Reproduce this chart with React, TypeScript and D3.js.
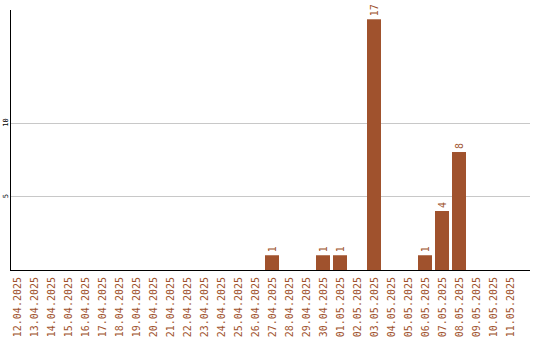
import React from "react";
import * as d3 from "d3";

const dates = [
  "12.04.2025","13.04.2025","14.04.2025","15.04.2025","16.04.2025","17.04.2025",
  "18.04.2025","19.04.2025","20.04.2025","21.04.2025","22.04.2025","23.04.2025",
  "24.04.2025","25.04.2025","26.04.2025","27.04.2025","28.04.2025","29.04.2025",
  "30.04.2025","01.05.2025","02.05.2025","03.05.2025","04.05.2025","05.05.2025",
  "06.05.2025","07.05.2025","08.05.2025","09.05.2025","10.05.2025","11.05.2025",
];
const values = [
  0,0,0,0,0,0,
  0,0,0,0,0,0,
  0,0,0,1,0,0,
  1,1,0,17,0,0,
  1,4,8,0,0,0,
];
const yTicks = [5, 10];

const W = 540, H = 340;
const left = 10, right = 530, top = 10, bottom = 270;
const color = "#a0522d";
const font = "'DejaVu Sans Mono', monospace";

export default function App() {
  const x = d3.scaleBand<string>()
    .domain(dates)
    .range([left, right])
    .paddingInner(3 / 17)
    .paddingOuter(0.38235)
    .align(0);
  const y = d3.scaleLinear().domain([0, 17.63]).range([bottom, top]);
  const bw = x.bandwidth();

  return (
    <svg width={W} height={H} style={{ position: "absolute", left: 0, top: 0, background: "#fff" }}>
      {yTicks.map((t) => (
        <g key={t}>
          <line x1={left} x2={right} y1={Math.round(y(t)) + 0.5} y2={Math.round(y(t)) + 0.5} stroke="#c8c8c8" strokeWidth={1} />
          <text
            transform={`translate(8,${y(t)}) rotate(-90)`}
            textAnchor="middle"
            fontFamily={font}
            fontSize={7}
            fill="#000"
          >{t}</text>
        </g>
      ))}
      {dates.map((d, i) => {
        const v = values[i];
        const bx = x(d)!;
        const cx = bx + bw / 2;
        return (
          <g key={d}>
            {v > 0 && (
              <>
                <rect x={bx} y={y(v)} width={bw} height={bottom - y(v)} fill={color} />
                <text
                  transform={`translate(${cx + 3.5},${y(v) - 3}) rotate(-90)`}
                  textAnchor="start"
                  fontFamily={font}
                  fontSize={10}
                  fill={color}
                >{v}</text>
              </>
            )}
            <text
              transform={`translate(${cx + 3.5},${bottom + 7}) rotate(-90)`}
              textAnchor="end"
              fontFamily={font}
              fontSize={10}
              fill={color}
            >{d}</text>
          </g>
        );
      })}
      <line x1={left + 0.5} x2={left + 0.5} y1={top} y2={bottom} stroke="#000" strokeWidth={1} />
      <line x1={left} x2={right} y1={bottom + 0.5} y2={bottom + 0.5} stroke="#000" strokeWidth={1} />
    </svg>
  );
}
